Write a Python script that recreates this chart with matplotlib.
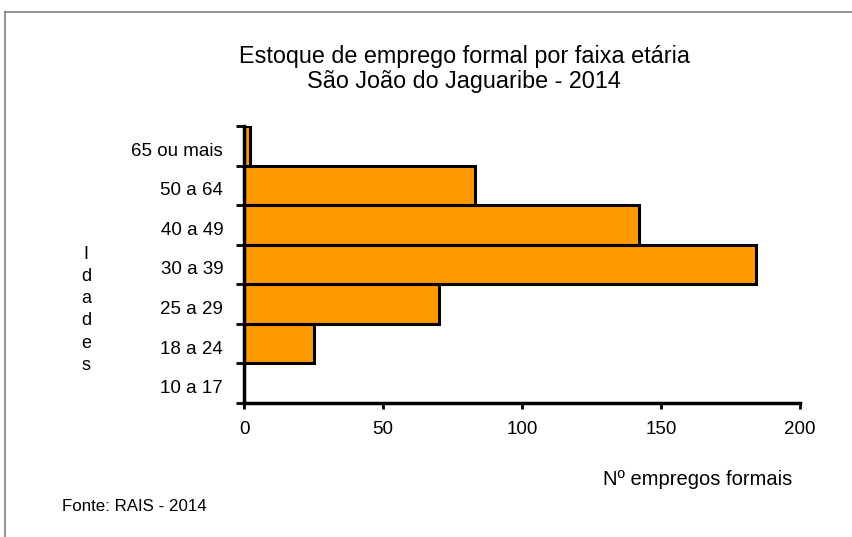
import matplotlib.pyplot as plt
import numpy as np
from matplotlib.lines import Line2D
from matplotlib.transforms import ScaledTranslation

plt.rcParams['font.family'] = ['Liberation Sans', 'DejaVu Sans']

faixas = ["10 a 17", "18 a 24", "25 a 29", "30 a 39", "40 a 49", "50 a 64", "65 ou mais"]
empregos = [0, 25, 70, 184, 142, 83, 2]
x_ticks = [0, 50, 100, 150, 200]

fig = plt.figure(figsize=(8.52, 5.37), dpi=100)
ax = fig.add_axes([0.2864, 0.2495, 0.6526, 0.5159])

pos = np.arange(len(faixas))
ax.barh(pos, empregos, height=1.0, color="#FF9900", edgecolor="black", linewidth=2.2)

ax.set_xlim(0, 200)
ax.set_ylim(-0.5, len(faixas) - 0.5)
ax.set_xticks(x_ticks)
ax.set_yticks(pos)
ax.set_yticklabels(faixas, fontsize=13.5)
ax.set_yticks(np.arange(len(faixas) + 1) - 0.5, minor=True)
ax.tick_params(axis="y", which="major", length=0, pad=15)
ax.tick_params(axis="y", which="minor", length=6, width=2, direction="out")
ax.tick_params(axis="x", labelsize=13.5, length=4, width=2, pad=9)

# rótulos do eixo y um pouco abaixo do centro da faixa
desloc = ScaledTranslation(0, -0.035, fig.dpi_scale_trans)
for lab in ax.get_yticklabels():
    lab.set_transform(lab.get_transform() + desloc)

for s in ["top", "right"]:
    ax.spines[s].set_visible(False)
for s in ["left", "bottom"]:
    ax.spines[s].set_linewidth(2.5)

# título em duas linhas
fig.text(0.545, 0.8827, "Estoque de emprego formal por faixa etária",
         ha="center", va="baseline", fontsize=16.8)
fig.text(0.545, 0.8361, "São João do Jaguaribe - 2014",
         ha="center", va="baseline", fontsize=16.8)

fig.text(0.101, 0.423, "\n".join("Idades"), ha="center", va="center",
         fontsize=13, linespacing=1.4)
fig.text(0.93, 0.108, "Nº empregos formais", ha="right", va="center", fontsize=14.5)
fig.text(0.0728, 0.056, "Fonte: RAIS - 2014", ha="left", va="center", fontsize=12.2)

# moldura do gráfico
fig.add_artist(Line2D([0.006, 1.0], [0.978, 0.978], color="#808080", linewidth=1.2))
fig.add_artist(Line2D([0.006, 0.006], [0.0, 0.978], color="#808080", linewidth=1.2))

fig.savefig("out.png", dpi=100)
